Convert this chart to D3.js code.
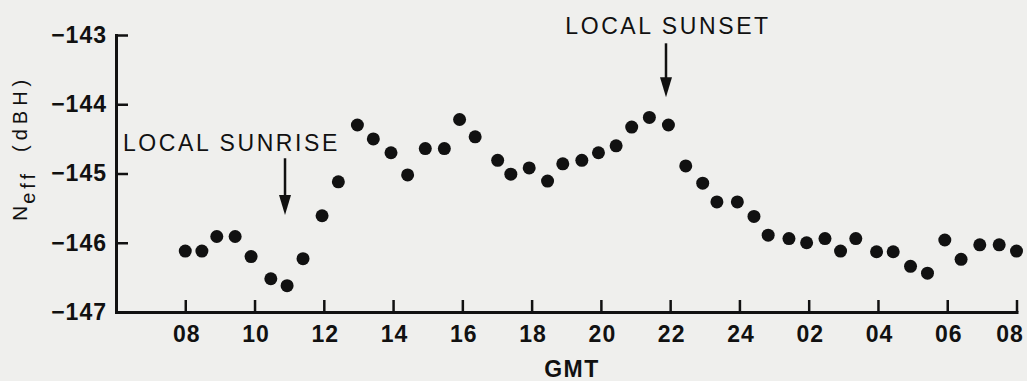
<!DOCTYPE html>
<meta charset="utf-8">
<title>Neff vs GMT</title>
<style>
body {
  margin: 0px;
  background: #efefed;
}
svg {
  background-color: #efefed;
  font-family: "Liberation Sans", Arial, sans-serif;
}
.axis path, .axis line {
  stroke: #111;
}
.axis path { stroke-width: 3px; }
.axis line { stroke-width: 2.5px; }
.axis text {
  fill: #111;
  font-size: 23px;
  font-weight: bold;
  letter-spacing: 1px;
}
.note {
  fill: #111;
  font-size: 23px;
  letter-spacing: 2.6px;
}
</style>

<script src="https://d3js.org/d3.v7.min.js"></script>

<body>
<script>
var width = 1027, height = 381;

// measurement times (hours GMT, continuing past 24) and Neff values (dBH)
var hours = [8.00, 8.48, 8.91, 9.44, 9.90, 10.47, 10.94, 11.40, 11.95, 12.42,
  12.97, 13.43, 13.94, 14.42, 14.93, 15.48, 15.92, 16.37, 17.02, 17.40,
  17.93, 18.46, 18.90, 19.45, 19.93, 20.44, 20.89, 21.40, 21.95, 22.45,
  22.94, 23.35, 23.94, 24.42, 24.83, 25.43, 25.94, 26.47, 26.92, 27.36,
  27.96, 28.44, 28.94, 29.43, 29.93, 30.40, 30.94, 31.50, 32.00];
var neff = [-146.12, -146.12, -145.91, -145.91, -146.20, -146.52, -146.62, -146.23, -145.61, -145.12,
  -144.30, -144.50, -144.70, -145.02, -144.64, -144.64, -144.22, -144.47, -144.81, -145.01,
  -144.92, -145.11, -144.86, -144.81, -144.70, -144.60, -144.33, -144.19, -144.30, -144.89,
  -145.14, -145.41, -145.41, -145.62, -145.89, -145.94, -146.00, -145.94, -146.12, -145.94,
  -146.13, -146.13, -146.34, -146.44, -145.96, -146.24, -146.03, -146.03, -146.12];

var xTicks = [8, 10, 12, 14, 16, 18, 20, 22, 24, 26, 28, 30, 32];
var xTickLabels = ["08", "10", "12", "14", "16", "18", "20", "22", "24", "02", "04", "06", "08"];
var yTicks = [-147, -146, -145, -144, -143];
var yTickLabels = ["\u2212147", "\u2212146", "\u2212145", "\u2212144", "\u2212143"];

var noteLabels = ["LOCAL SUNRISE", "LOCAL SUNSET"];
var noteHours = [10.88, 21.88];
var noteFrom = [-144.78, -143.12];  // arrow tail (dBH)
var noteTo = [-145.6, -143.9];      // arrow tip (dBH)

var svg = d3.select("body").append("svg")
    .attr("width", width)
    .attr("height", height);

var x = d3.scaleLinear().domain([6, 32]).range([116, 1016.5]);
var y = d3.scaleLinear().domain([-147, -143]).range([312, 35]);

var xAxis = svg.append("g")
    .attr("class", "axis")
    .attr("transform", "translate(0," + y(-147) + ")")
    .call(d3.axisBottom(x)
      .tickValues(xTicks)
      .tickSizeInner(-12)
      .tickSizeOuter(0)
      .tickPadding(14)
      .tickFormat(function(d, i) { return xTickLabels[i]; }));
// keep the last label inside the picture
xAxis.selectAll("text").attr("dx", function(d, i) { return i === xTicks.length - 1 ? "-7px" : "1px"; });

svg.append("g")
    .attr("class", "axis")
    .attr("transform", "translate(" + x(6) + ",0)")
    .call(d3.axisLeft(y)
      .tickValues(yTicks)
      .tickSizeInner(-12)
      .tickSizeOuter(0)
      .tickPadding(9)
      .tickFormat(function(d, i) { return yTickLabels[i]; }));

svg.selectAll(".axis .domain").attr("stroke-linecap", "square");

// axis titles
svg.append("text")
    .attr("x", 572)
    .attr("y", 377)
    .attr("text-anchor", "middle")
    .style("font-size", "23px")
    .style("font-weight", "bold")
    .style("letter-spacing", "1.5px")
    .attr("fill", "#111")
    .text("GMT");

var ytitle = svg.append("text")
    .attr("transform", "translate(27,221) rotate(-90)")
    .attr("fill", "#111")
    .style("font-size", "20px");
ytitle.append("tspan").style("font-size", "21px").text("N");
ytitle.append("tspan").attr("dy", 8).attr("dx", 2).style("letter-spacing", "4px").text("eff");
ytitle.append("tspan").attr("dy", -8).attr("dx", 18).style("letter-spacing", "5px").text("(dBH)");

// data points
svg.append("g").selectAll("circle")
    .data(hours)
  .enter().append("circle")
    .attr("cx", function(d) { return x(d); })
    .attr("cy", function(d, i) { return y(neff[i]); })
    .attr("r", 6.5)
    .attr("fill", "#111");

// sunrise / sunset annotations
var notes = svg.append("g").selectAll("g")
    .data(noteLabels)
  .enter().append("g");
notes.append("line")
    .attr("x1", function(d, i) { return x(noteHours[i]); })
    .attr("x2", function(d, i) { return x(noteHours[i]); })
    .attr("y1", function(d, i) { return y(noteFrom[i]); })
    .attr("y2", function(d, i) { return y(noteTo[i]) - 14; })
    .attr("stroke", "#111")
    .attr("stroke-width", 2.5);
notes.append("path")
    .attr("d", function(d, i) {
      var px = x(noteHours[i]), py = y(noteTo[i]);
      return "M" + (px - 6) + "," + (py - 20) + "L" + (px + 6) + "," + (py - 20) + "L" + px + "," + py + "Z";
    })
    .attr("fill", "#111");
notes.append("text")
    .attr("class", "note")
    .attr("x", function(d, i) { return i === 0 ? x(6.2) : x(noteHours[i]) + 2; })
    .attr("y", function(d, i) { return i === 0 ? 151 : 34; })
    .attr("text-anchor", function(d, i) { return i === 0 ? "start" : "middle"; })
    .text(function(d) { return d; });
</script>
